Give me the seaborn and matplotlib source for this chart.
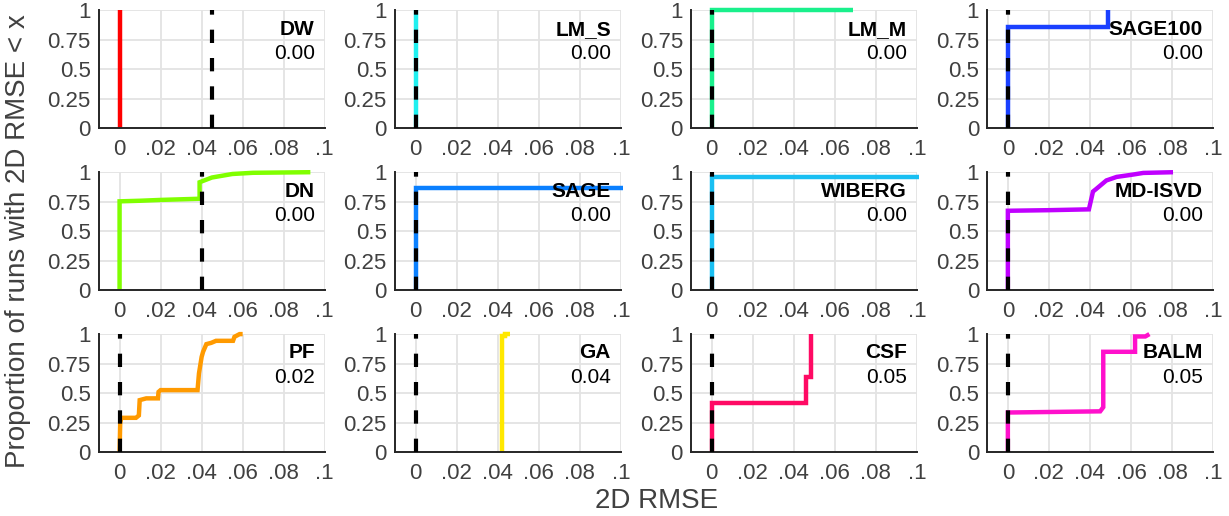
import matplotlib
matplotlib.use("Agg")
import matplotlib.pyplot as plt
import seaborn as sns

# methods in panel order (row by row)
methods = ["DW", "LM_S", "LM_M", "SAGE100",
           "DN", "SAGE", "WIBERG", "MD-ISVD",
           "PF", "GA", "CSF", "BALM"]
scores = ["0.00", "0.00", "0.00", "0.00",
          "0.00", "0.00", "0.00", "0.00",
          "0.02", "0.04", "0.05", "0.05"]
colors = ["#ff0000", "#1ff0f0", "#19f08c", "#1a40ff",
          "#80ff00", "#0a80ff", "#19bff2", "#c000ff",
          "#ff9a00", "#ffe800", "#ff0a64", "#ff10cc"]
# black dashed reference line per panel
dash_x = [0.045, 0.0, 0.0, 0.0,
          0.04, 0.0, 0.0, 0.0,
          0.0, 0.0, 0.0, 0.0]

dw_x = [0.0, 0.0]
dw_y = [0.0, 1.0]
lms_x = [0.0, 0.0]
lms_y = [0.0, 1.0]
lmm_x = [0.0, 0.0, 0.069]
lmm_y = [0.0, 1.0, 1.0]
sage100_x = [0.0, 0.0, 0.049, 0.049]
sage100_y = [0.0, 0.858, 0.858, 1.0]
dn_x = [0.0, 0.0, 0.01, 0.02, 0.039, 0.039, 0.042, 0.045, 0.05, 0.055, 0.065, 0.093]
dn_y = [0.0, 0.753, 0.758, 0.765, 0.775, 0.915, 0.935, 0.955, 0.97, 0.985, 0.995, 1.0]
sage_x = [0.0, 0.0, 0.101]
sage_y = [0.0, 0.865, 0.865]
wiberg_x = [0.0, 0.0, 0.101]
wiberg_y = [0.0, 0.958, 0.958]
mdisvd_x = [0.0, 0.0, 0.02, 0.0395, 0.0415, 0.043, 0.048, 0.053, 0.061, 0.066, 0.0805]
mdisvd_y = [0.0, 0.673, 0.678, 0.685, 0.836, 0.857, 0.93, 0.96, 0.98, 0.994, 1.0]
pf_x = [0.0, 0.0003, 0.0008, 0.008, 0.0094, 0.0098, 0.013, 0.0187, 0.019, 0.02, 0.038,
        0.0387, 0.040, 0.0407, 0.0423, 0.0447, 0.047, 0.0553, 0.056, 0.0585, 0.060]
pf_y = [0.0, 0.24, 0.29, 0.29, 0.31, 0.44, 0.455, 0.455, 0.51, 0.525, 0.525,
        0.667, 0.807, 0.85, 0.915, 0.926, 0.943, 0.943, 0.977, 1.0, 1.0]
ga_x = [0.042, 0.042, 0.0435, 0.0435, 0.046]
ga_y = [0.0, 0.98, 0.98, 1.0, 1.0]
csf_x = [0.0, 0.0, 0.046, 0.046, 0.0485, 0.0485]
csf_y = [0.0, 0.415, 0.415, 0.64, 0.64, 1.0]
balm_x = [0.0, 0.0, 0.045, 0.0465, 0.0465, 0.062, 0.062, 0.067, 0.069]
balm_y = [0.0, 0.335, 0.345, 0.38, 0.85, 0.85, 0.98, 0.98, 1.0]

curves = [(dw_x, dw_y), (lms_x, lms_y), (lmm_x, lmm_y), (sage100_x, sage100_y),
          (dn_x, dn_y), (sage_x, sage_y), (wiberg_x, wiberg_y), (mdisvd_x, mdisvd_y),
          (pf_x, pf_y), (ga_x, ga_y), (csf_x, csf_y), (balm_x, balm_y)]

xticks = [0, 0.02, 0.04, 0.06, 0.08, 0.1]
xticklabels = ["0", ".02", ".04", ".06", ".08", ".1"]
yticks = [0, 0.25, 0.5, 0.75, 1]
yticklabels = ["0", "0.25", "0.5", "0.75", "1"]

sns.set_theme(style="whitegrid", rc={"grid.color": "#e3e3e3", "grid.linewidth": 1.3,
                                     "axes.edgecolor": "#262626", "axes.linewidth": 1.4})
plt.rcParams["font.family"] = ["Liberation Sans", "DejaVu Sans"]

fig, axes = plt.subplots(3, 4, figsize=(12.29, 5.16), dpi=100)
plt.subplots_adjust(left=0.0806, right=0.987, bottom=0.124, top=0.98, wspace=0.312, hspace=0.373)

for i, ax in enumerate(axes.flat):
    xs, ys = curves[i]
    sns.lineplot(x=xs, y=ys, ax=ax, color=colors[i], lw=3.2, sort=False,
                 estimator=None, clip_on=False, zorder=2,
                 solid_joinstyle="miter", solid_capstyle="butt")
    ax.plot([dash_x[i], dash_x[i]], [0, 1], color="black", lw=3,
            linestyle=(0, (3.2, 3.6)), dash_capstyle="butt", clip_on=False, zorder=3)

    ax.set_xlim(-0.01, 0.1)
    ax.set_ylim(0, 1)
    ax.set_xticks(xticks)
    ax.set_xticklabels(xticklabels)
    ax.set_yticks(yticks)
    ax.set_yticklabels(yticklabels)
    ax.set_xlabel("")
    ax.set_ylabel("")
    ax.set_axisbelow(True)
    for side in ["top", "right"]:
        ax.spines[side].set_visible(False)
    ax.tick_params(direction="in", length=4, width=1.2, color="#262626",
                   labelsize=16, labelcolor="#404040", pad=8)
    ax.tick_params(axis="y", pad=6)

    ax.text(0.956, 0.84, methods[i], transform=ax.transAxes, ha="right", va="center",
            fontsize=15, fontweight="bold", color="black", zorder=5)
    ax.text(0.956, 0.636, scores[i], transform=ax.transAxes, ha="right", va="center",
            fontsize=15, color="black", zorder=5)

fig.text(0.534, 0.029, "2D RMSE", ha="center", va="center", fontsize=20, color="#404040")
fig.text(0.015, 0.533, "Proportion of runs with 2D RMSE < x", ha="center", va="center",
         rotation=90, fontsize=20, color="#404040")

fig.savefig("out.png", dpi=100)
